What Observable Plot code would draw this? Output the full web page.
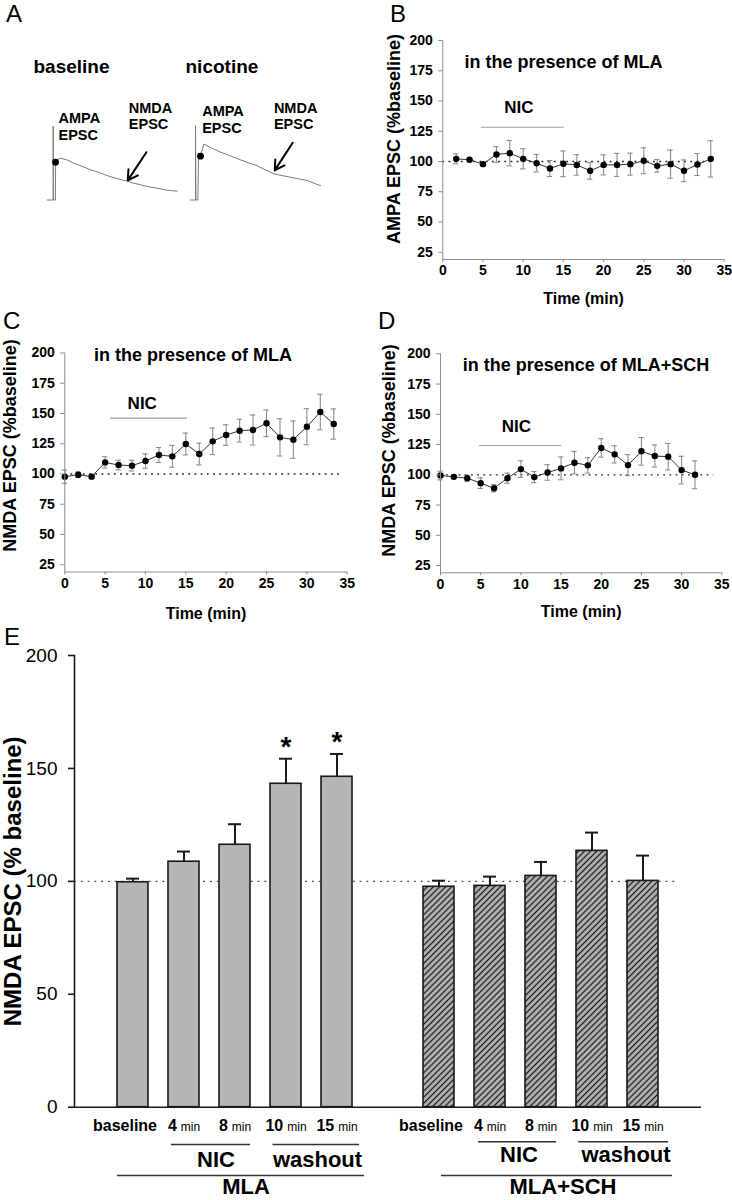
<!DOCTYPE html>
<html><head><meta charset="utf-8">
<script src="https://cdn.jsdelivr.net/npm/d3@7"></script>
<script src="https://cdn.jsdelivr.net/npm/@observablehq/plot@0.6"></script>
<style>
body{margin:0;background:#fff;}
#root{position:relative;width:732px;height:1200px;overflow:hidden;background:#fff;font-family:'Liberation Sans',Arial,Helvetica,sans-serif;}
</style></head>
<body><div id="root"></div>
<script>
// ---------- Panel A: example traces (time in ms, amplitude in pA) ----------
const traceBaselineT = [0,30,30,31,41,42,55,67,100,133,175,217,258,300,342,383,400,425,467,508,550,592,620,650];
const traceBaselineV = [0,0,184,0,0,94,102,104.5,100,92,84,75.5,69,61,54.5,49,47.5,43,38,33,29.5,25,23.5,22];
const traceNicotineT = [0,25,25,27,37,40,50,67,100,150,200,250,292,333,375,417,458,500,542,583,625,650];
const traceNicotineV = [0,0,186,0,0,106,110,140,131,119.5,110,100.5,92.5,86,75,65.5,61,57,52.5,49,40.5,36];
const traceDotBaseline = {t: 41.5, v: 94.5};
const traceDotNicotine = {t: 50, v: 109.5};

// ---------- Panel B: AMPA EPSC, MLA ----------
const bTime = [1.67,3.33,5,6.67,8.33,10,11.67,13.33,15,16.67,18.33,20,21.67,23.33,25,26.67,28.33,30,31.67,33.33];
const bMean = [102.2,101.4,97.8,105.8,106.9,102.2,98.6,94.2,98.1,97.2,92.3,97.2,97.2,97.8,100.6,96.4,97.8,92.3,97.5,102.2];
const bSem  = [4.1,1.0,1.0,6.5,10.5,8.3,7.2,6.6,10.6,8.5,6.9,8.3,9.5,9.1,10.7,5.2,11.6,9.0,9.1,15.0];

// ---------- Panel C: NMDA EPSC, MLA ----------
const cTime = [0,1.67,3.33,5,6.67,8.33,10,11.67,13.33,15,16.67,18.33,20,21.67,23.33,25,26.67,28.33,30,31.67,33.33];
const cMean = [97.8,99.4,97.8,109.6,107.4,106.9,110.7,115.7,114.6,124.8,116.5,127.0,132.2,135.8,136.4,141.9,130.3,128.4,139.1,151.2,141.3];
const cSem  = [5.5,2.3,1.6,4.7,4.0,4.4,5.9,6.2,9.0,9.0,9.0,11.0,8.5,9.4,12.4,11.0,15.4,15.4,14.9,14.7,12.5];

// ---------- Panel D: NMDA EPSC, MLA+SCH ----------
const dTime = [0,1.67,3.33,5,6.67,8.33,10,11.67,13.33,15,16.67,18.33,20,21.67,23.33,25,26.67,28.33,30,31.67];
const dMean = [99.4,98.3,97.2,93.1,88.9,97.2,104.7,98.1,101.9,105.3,110.0,107.8,122.2,116.9,108.0,119.4,115.5,115.0,103.9,100.0];
const dSem  = [3.6,1.4,2.5,4.4,3.0,4.2,6.9,4.6,6.4,9.4,9.3,6.4,7.6,7.1,8.7,11.4,9.1,10.9,11.4,11.5];

// ---------- Panel E: summary bars ----------
const eConds = ["baseline","4 min","8 min","10 min","15 min"];
const eGroups = ["MLA","MLA+SCH"];
const eMlaMean = [99.6,108.7,116.2,143.2,146.3];
const eMlaSem  = [1.6,4.5,9.1,11.1,10.1];
const eSchMean = [97.6,98.0,102.4,113.5,100.2];
const eSchSem  = [2.7,4.1,6.2,8.1,11.2];
const eMlaSig  = [false,false,false,true,true];
const eSchSig  = [false,false,false,false,false];

const xTicks = [0,5,10,15,20,25,30,35];
const yTicks = [25,50,75,100,125,150,175,200];
const eTicks = [0,50,100,150,200];

// ===================================================================
const FONT = "'Liberation Sans', Arial, Helvetica, sans-serif";
const baseStyle = {fontFamily: FONT, background: "transparent", overflow: "visible", color: "#000"};
const root = document.getElementById("root");
function place(el, left, top) {
  el.style.position = "absolute"; el.style.left = left + "px"; el.style.top = top + "px";
  root.appendChild(el);
}
const constant = v => () => v;

// ---------- Panel A ----------
function tracePlot(T, V, dot, title, tOffset, ann, w, ml, mr) {
  const rows = T.map((t, i) => ({t, v: V[i]}));
  return Plot.plot({
    width: w, height: 240, marginLeft: ml, marginRight: mr, marginTop: 119.5, marginBottom: 40.5,
    style: baseStyle,
    x: {domain: [0, 655], axis: null},
    y: {domain: [0, 200], axis: null},
    marks: [
      Plot.line(rows, {x: "t", y: "v", stroke: "#7a7a7a", strokeWidth: 1}),
      Plot.dot([dot], {x: "t", y: "v", r: 3.4, fill: "#000"}),
      Plot.text([title], {x: tOffset, y: 317, text: d => d, textAnchor: "start", lineAnchor: "bottom", fontSize: 19, fontWeight: "bold"}),
      Plot.text(ann.labels, {x: "t", y: "v", text: "s", textAnchor: "start", lineAnchor: "bottom", fontSize: 14.5, fontWeight: "bold"}),
      Plot.arrow([ann.arrow], {x1: "t1", y1: "v1", x2: "t2", y2: "v2", stroke: "#000", strokeWidth: 2, headLength: 9})
    ]
  });
}
place(tracePlot(traceBaselineT, traceBaselineV, traceDotBaseline, "baseline", -68.5, {
  labels: [{s: "AMPA", t: 56.5, v: 192}, {s: "EPSC", t: 56.5, v: 149}, {s: "NMDA", t: 408, v: 217}, {s: "EPSC", t: 408, v: 178}],
  arrow: {t1: 496, v1: 119.5, t2: 403, v2: 49}
}, 183, 46.7, 5.3), 0, 0);
place(tracePlot(traceNicotineT, traceNicotineV, traceDotNicotine, "nicotine", -25, {
  labels: [{s: "AMPA", t: 58.5, v: 211}, {s: "EPSC", t: 58.5, v: 167}, {s: "NMDA", t: 417, v: 217}, {s: "EPSC", t: 417, v: 178}],
  arrow: {t1: 511, v1: 143, t2: 421, v2: 74}
}, 183, 7, 45), 183, 0);

// ---------- Panels B, C, D ----------
function timePlot(o) {
  const rows = o.time.map((t, i) => ({t, m: o.mean[i], e: o.sem[i]}));
  const grey = "#8c8c8c";
  return Plot.plot({
    width: o.w, height: o.h, marginLeft: o.ml, marginRight: o.mr, marginTop: o.mt, marginBottom: o.mb,
    style: baseStyle,
    x: {domain: [0, 35]},
    y: {domain: [19, 200]},
    marks: [
      Plot.ruleY([100], {x1: 0, x2: o.dotEnd, stroke: "#222", strokeDasharray: "1.8,4.4", strokeWidth: 1.3}),
      Plot.ruleY([o.nic.v], {x1: o.nic.from, x2: o.nic.to, stroke: "#a0a0a0", strokeWidth: 1.2}),
      Plot.text(["NIC"], {x: o.nic.tx, y: o.nic.tv, text: d => d, fontSize: 17, fontWeight: "bold"}),
      Plot.ruleX(rows, {x: "t", y1: d => d.m - d.e, y2: d => d.m + d.e, stroke: grey, strokeWidth: 1.1}),
      Plot.ruleY(rows, {y: d => d.m + d.e, x1: d => d.t - 0.33, x2: d => d.t + 0.33, stroke: grey, strokeWidth: 1.1}),
      Plot.ruleY(rows, {y: d => d.m - d.e, x1: d => d.t - 0.33, x2: d => d.t + 0.33, stroke: grey, strokeWidth: 1.1}),
      Plot.line(rows, {x: "t", y: "m", stroke: "#333", strokeWidth: 1}),
      Plot.dot(rows, {x: "t", y: "m", r: 3.2, fill: "#000"}),
      Plot.ruleX([0], {stroke: grey}),
      Plot.ruleY([19], {stroke: grey}),
      Plot.axisY({ticks: yTicks, tickSize: 4, tickPadding: 6, fontSize: 14, fontWeight: "bold", stroke: grey, fill: "#000", label: null}),
      Plot.axisX({ticks: xTicks, tickSize: 3, tickPadding: 3, fontSize: 14, fontWeight: "bold", stroke: grey, fill: "#000", label: null}),
      Plot.text([o.title], {frameAnchor: "top", lineAnchor: "middle", dx: o.titleDx, dy: o.titleDy, text: d => d, fontSize: 18, fontWeight: "bold"}),
      Plot.text([o.yLabel], {frameAnchor: "left", textAnchor: "middle", lineAnchor: "middle", rotate: -90, dx: o.yDx, dy: o.yDy, text: d => d, fontSize: 18, fontWeight: "bold"}),
      Plot.text(["Time (min)"], {frameAnchor: "bottom", lineAnchor: "middle", dy: o.xDy, text: d => d, fontSize: 16, fontWeight: "bold"})
    ]
  });
}
place(timePlot({time: bTime, mean: bMean, sem: bSem, title: "in the presence of MLA", yLabel: "AMPA EPSC (%baseline)",
  w: 366, h: 300, ml: 76.3, mr: 8.3, mt: 40, mb: 41, dotEnd: 33.8,
  nic: {v: 128.3, from: 4.8, to: 15.1, tx: 9.45, tv: 144.9},
  titleDx: -20, titleDy: 22, yDx: -48.3, yDy: -11, xDy: 39.3}), 366, 0);
place(timePlot({time: cTime, mean: cMean, sem: cSem, title: "in the presence of MLA", yLabel: "NMDA EPSC (%baseline)",
  w: 366, h: 330, ml: 64.3, mr: 19.3, mt: 52.5, mb: 58.5, dotEnd: 34.5,
  nic: {v: 146.1, from: 5.66, to: 15.2, tx: 9.6, tv: 158},
  titleDx: -13, titleDy: 2.5, yDx: -54.8, yDy: -17, xDy: 41.5}), 0, 300);
place(timePlot({time: dTime, mean: dMean, sem: dSem, title: "in the presence of MLA+SCH", yLabel: "NMDA EPSC (%baseline)",
  w: 366, h: 330, ml: 74, mr: 10.7, mt: 53.3, mb: 57.7, dotEnd: 34,
  nic: {v: 124.2, from: 4.85, to: 15.1, tx: 9.45, tv: 139.9},
  titleDx: 4.8, titleDy: 11.7, yDx: -51.5, yDy: -12.8, xDy: 39.4}), 366, 300);

// ---------- Panel E ----------
const eRows = eGroups.flatMap((g, gi) => eConds.map((c, i) => ({
  group: g, cond: c, key: g + "|" + c,
  mean: gi === 0 ? eMlaMean[i] : eSchMean[i],
  sem: gi === 0 ? eMlaSem[i] : eSchSem[i],
  sig: gi === 0 ? eMlaSig[i] : eSchSig[i]
})));
const eDomain = [...eRows.filter(d => d.group === "MLA").map(d => d.key), "gap", ...eRows.filter(d => d.group === "MLA+SCH").map(d => d.key)];
const ink = "#1a1a1a";
function groupMarks(g, o) {
  const k = c => constant(g + "|" + c);
  return [
    Plot.ruleY([0], {x1: k("4 min"), x2: k("8 min"), dy: o.bracketDy, insetLeft: o.nicIL, insetRight: 0, stroke: "#333", strokeWidth: 1.4}),
    Plot.ruleY([0], {x1: k("10 min"), x2: k("15 min"), dy: o.bracketDy, insetLeft: o.washIL, insetRight: o.washIR, stroke: "#333", strokeWidth: 1.4}),
    Plot.ruleY([0], {x1: k("baseline"), x2: k("15 min"), dy: 68.3, insetLeft: o.grpIL, insetRight: o.grpIR, stroke: "#333", strokeWidth: 1.4}),
    Plot.text(["NIC"], {x: k("8 min"), frameAnchor: "bottom", lineAnchor: "bottom", dx: o.nicDx, dy: o.textDy, text: d => d, fontSize: 22, fontWeight: "bold"}),
    Plot.text(["washout"], {x: k("15 min"), frameAnchor: "bottom", lineAnchor: "bottom", dx: o.washDx, dy: o.textDy, text: d => d, fontSize: 22, fontWeight: "bold"}),
    Plot.text([g], {x: k("8 min"), frameAnchor: "bottom", lineAnchor: "bottom", dx: o.grpDx, dy: 87, text: d => d, fontSize: 22, fontWeight: "bold"})
  ];
}
const svgE = Plot.plot({
  width: 732, height: 570, marginLeft: 74, marginRight: 31, marginTop: 25, marginBottom: 93.3,
  style: baseStyle,
  x: {type: "band", domain: eDomain, paddingInner: 0.4, paddingOuter: 0.76, axis: null},
  y: {domain: [0, 200], axis: null},
  marks: [
    Plot.ruleY([100], {stroke: "#444", strokeDasharray: "1.8,5", strokeWidth: 1.4, insetRight: 22}),
    Plot.barY(eRows.filter(d => d.group === "MLA"), {x: "key", y: "mean", fill: "#b5b5b5", stroke: ink, strokeWidth: 1.6}),
    Plot.barY(eRows.filter(d => d.group === "MLA+SCH"), {x: "key", y: "mean", fill: "url(#hatch)", stroke: ink, strokeWidth: 1.6}),
    Plot.ruleX(eRows, {x: "key", y1: "mean", y2: d => d.mean + d.sem, stroke: ink, strokeWidth: 2}),
    Plot.tickY(eRows, {x: "key", y: d => d.mean + d.sem, stroke: ink, strokeWidth: 2, insetLeft: 9, insetRight: 9}),
    Plot.text(eRows.filter(d => d.sig), {x: "key", y: d => d.mean + d.sem, text: () => "*", lineAnchor: "bottom", dy: -3, fontSize: 28, fontWeight: "bold"}),
    Plot.ruleY([0], {stroke: ink, strokeWidth: 1.6}),
    Plot.frame({anchor: "left", stroke: ink, strokeWidth: 1.6}),
    Plot.axisY({ticks: eTicks, tickSize: 6, tickPadding: 11, fontSize: 19, stroke: ink, strokeWidth: 1.6, fill: "#000", label: null}),
    Plot.text(["NMDA EPSC (% baseline)"], {frameAnchor: "left", textAnchor: "middle", lineAnchor: "middle", rotate: -90, dx: -61, dy: 0, text: d => d, fontSize: 24, fontWeight: "bold"}),
    Plot.text(eRows.filter(d => d.cond === "baseline"), {x: "key", text: "cond", frameAnchor: "bottom", lineAnchor: "bottom", dx: -8, dy: 24, fontSize: 16, fontWeight: "bold"}),
    Plot.text(eRows.filter(d => d.cond !== "baseline"), {x: "key", text: "cond", frameAnchor: "bottom", lineAnchor: "bottom", dy: 24, fontSize: 16, fontWeight: "bold"}),
    ...groupMarks("MLA", {bracketDy: 37.3, nicIL: 3, washIL: 2.5, washIR: -7, grpIL: 0, grpIR: -12, nicDx: -19, washDx: -19.5, textDy: 59.5, grpDx: 11}),
    ...groupMarks("MLA+SCH", {bracketDy: 34.5, nicIL: 4, washIL: 2.3, washIR: -10, grpIL: 18, grpIR: -14, nicDx: -22, washDx: -17, textDy: 55, grpDx: 22})
  ]
});
// hatch pattern for the MLA+SCH bars, and "4 min"-style labels with a small "min"
{
  const defs = d3.select(svgE).insert("defs", ":first-child");
  const pat = defs.append("pattern").attr("id", "hatch").attr("patternUnits", "userSpaceOnUse")
    .attr("width", 4.3).attr("height", 4.3).attr("patternTransform", "rotate(45)");
  pat.append("rect").attr("width", 4.3).attr("height", 4.3).attr("fill", "#b5b5b5");
  pat.append("line").attr("x1", 2.15).attr("y1", -1).attr("x2", 2.15).attr("y2", 5.3).attr("stroke", "#1a1a1a").attr("stroke-width", 1.3);
  d3.select(svgE).selectAll("text").each(function () {
    const m = this.textContent.trim().match(/^(\d+) (min)$/);
    if (!m) return;
    const t = d3.select(this);
    t.selectAll("*").remove();
    t.text(null);
    t.append("tspan").text(m[1]);
    t.append("tspan").attr("dx", 4).attr("font-size", 12).attr("font-weight", "normal").text(m[2]);
  });
}
place(svgE, 0, 630);

// ---------- panel letters ----------
{
  const ov = d3.create("svg").attr("width", 732).attr("height", 1200)
    .style("position", "absolute").style("left", "0px").style("top", "0px").style("pointer-events", "none")
    .attr("font-family", FONT).attr("font-size", 24);
  const letters = [["A", 6, 22], ["B", 390, 22], ["C", 3, 329], ["D", 378, 329], ["E", 4, 645]];
  for (const [s, x, y] of letters) ov.append("text").attr("x", x).attr("y", y).text(s);
  root.appendChild(ov.node());
}
</script>
</body></html>
